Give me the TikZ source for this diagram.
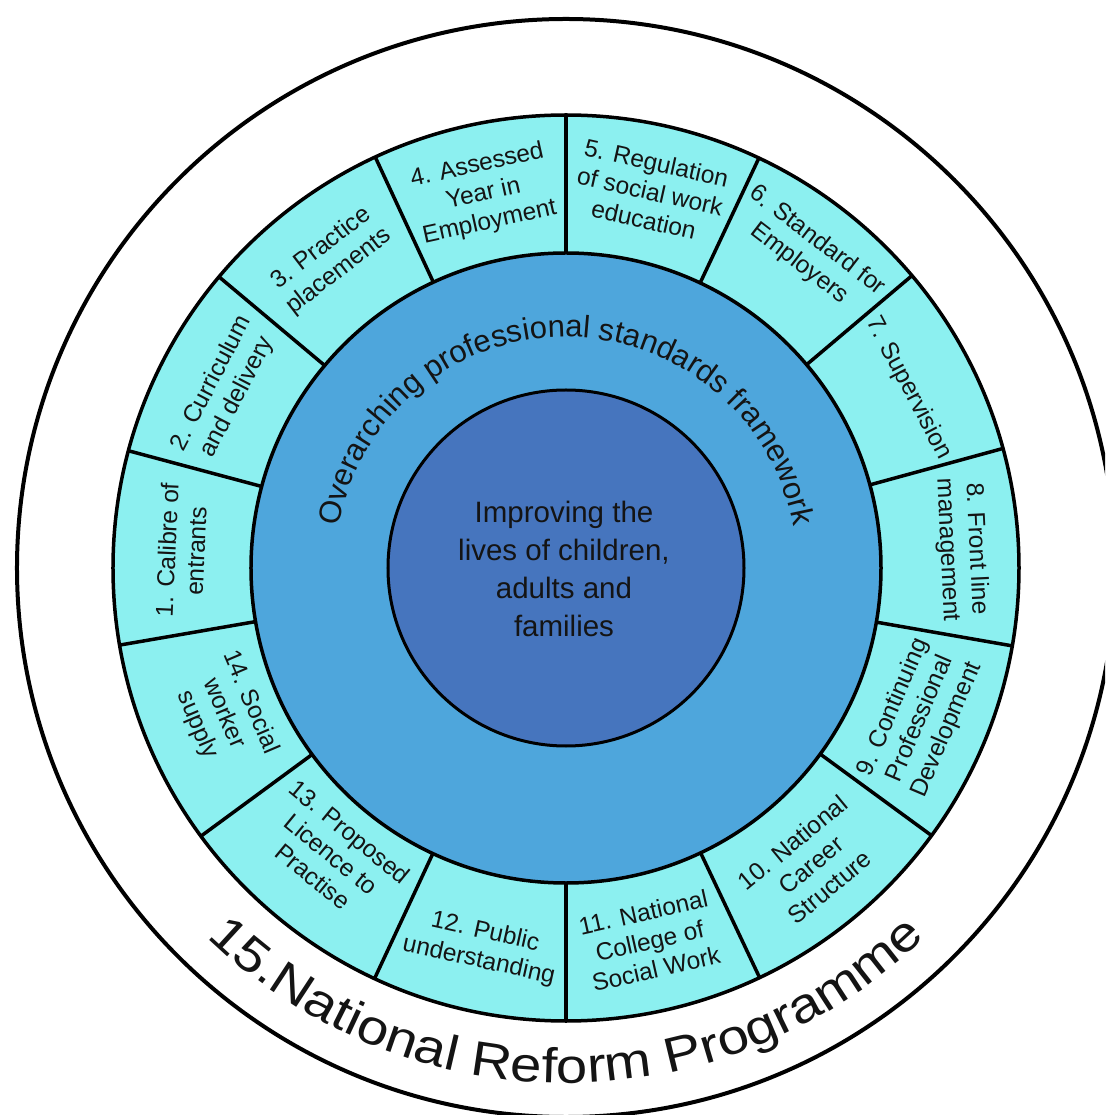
\documentclass[tikz,border=0pt]{standalone}
\usepackage{fontspec}
\setmainfont{Liberation Sans}
\newfontfamily\widesans[FakeStretch=1.15]{Liberation Sans}
\usetikzlibrary{decorations.text}
\definecolor{segfill}{HTML}{8CF0F0}
\definecolor{ringfill}{HTML}{4EA6DC}
\definecolor{corefill}{HTML}{4675BE}
\definecolor{txt}{HTML}{141414}
\begin{document}
\begin{tikzpicture}[x=1pt,y=1pt,
  seglabel/.style={align=center, inner sep=0pt, text=txt, font=\fontsize{24.5}{29}\selectfont},
  ringline/.style={line width=3.5pt, draw=black},
  corelabel/.style={align=center, inner sep=0pt, text=txt, font=\fontsize{29.5}{38}\selectfont}
]
\useasboundingbox (-566,-547) rectangle (539,568);
\clip (-566,-547) rectangle (539,568);
\fill[white] (-566,-547) rectangle (539,568);
% outer programme circle
\draw[line width=4pt, fill=white] (0,0) circle[radius=549];
% segment ring
\fill[segfill] (0,0) circle[radius=453];
\foreach \a in {90,64.8,40.2,15.3,-9.9,-36.2,-64.7,-90,-115,-143.7,-170.2,165,140,114.9}
  \draw[ringline] (\a:314) -- (\a:453);
\draw[ringline] (0,0) circle[radius=453];
% framework ring
\draw[ringline, fill=ringfill] (0,0) circle[radius=315];
% core
\draw[line width=3pt, fill=corefill] (0,0) circle[radius=178];
\node[corelabel] (core) at (-2,-1) {Improving the\\lives of children,\\adults and\\families};
% curved texts
\path[decorate, decoration={text along path, text align=center,
  text={|\fontsize{31}{31}\selectfont\color{txt}|Overarching professional standards framework}}]
  (180:231) arc[start angle=180, end angle=0, radius=231];
\path[decorate, decoration={text along path, text align=center,
  text={|\widesans\fontsize{49}{49}\selectfont\color{txt}|15.National Reform Programme}}]
  (-180:515) arc[start angle=-180, end angle=0, radius=515];
% segment labels
\node[seglabel, rotate=87.4]  (s1)  at (177.4:385)  {1. Calibre of\\entrants};
\node[seglabel, rotate=62.5]  (s2)  at (152.5:385)  {2. Curriculum\\and delivery};
\node[seglabel, rotate=37.45] (s3)  at (127.45:388) {3. Practice\\placements};
\node[seglabel, rotate=12.45] (s4)  at (102.45:383) {4. Assessed\\Year in\\Employment};
\node[seglabel, rotate=-12.6] (s5)  at (77.4:386)   {5. Regulation\\of social work\\education};
\node[seglabel, rotate=-37.5] (s6)  at (52.5:398)   {6. Standard for\\Employers};
\node[seglabel, rotate=-62.25](s7)  at (27.75:387)  {7. Supervision};
\node[seglabel, rotate=-87.3] (s8)  at (2.7:396)    {8. Front line\\management};
\node[seglabel, rotate=66.95] (s9)  at (-23.05:385) {9. Continuing\\Professional\\Development};
\node[seglabel, rotate=39.55] (s10) at (-50.45:385) {10. National\\Career\\Structure};
\node[seglabel, rotate=12.65] (s11) at (-77.35:382) {11. National\\College of\\Social Work};
\node[seglabel, rotate=-12.5] (s12) at (-102.5:388) {12. Public\\understanding};
\node[seglabel, rotate=-39.35](s13) at (-129.35:370){13. Proposed\\Licence to\\Practise};
\node[seglabel, rotate=-66.95](s14) at (-156.95:372){14. Social\\worker\\supply};
\end{tikzpicture}
\end{document}
